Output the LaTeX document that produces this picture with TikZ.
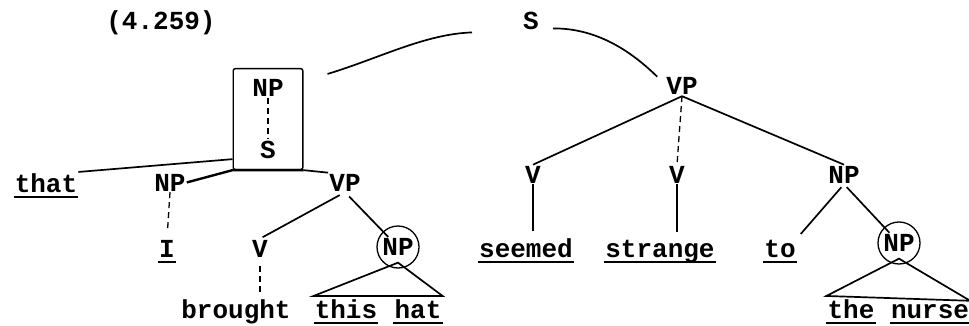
\documentclass[tikz,border=0pt]{standalone}
\usepackage{fontspec}
\setmonofont{Liberation Mono}
\usetikzlibrary{fit}
\tikzset{
  word/.style={anchor=base, inner sep=1pt},
  circ/.style={draw, line width=1.3pt, circle, minimum size=42pt, inner sep=0pt},
  branch/.style={line width=1.7pt},
  dotbranch/.style={line width=1.3pt, dash pattern=on 6pt off 4pt}
}
\begin{document}
\begin{tikzpicture}[x=1pt,y=-1pt,font=\ttfamily\bfseries\fontsize{26}{30}\selectfont]
  \useasboundingbox (0,0) rectangle (969,326);
  \node[word] (num) at (161,30) {(4.259)};
  \node[word] (S) at (531,30) {S};
  % boxed NP over S
  \node[word] (npa) at (268,97) {NP};
  \node[word] (sa) at (268,158) {S};
  \node[draw, line width=1.4pt, rounded corners=2pt, fit=(npa)(sa), inner xsep=18pt, inner ysep=10pt] (box) {};
  \draw[dotbranch] (npa) -- (sa);
  % left subtree
  \node[word] (that) at (46,192) {that};
  \node[word] (npl) at (170,191) {NP};
  \node[word] (vpl) at (345,191) {VP};
  \node[word] (I) at (167,257) {I};
  \node[word] (vl) at (260,257) {V};
  \node[circ] (npc1) at (398,247) {NP};
  \node[word] (brought) at (236,318) {brought};
  \node[word] (this) at (346,318) {this};
  \node[word] (hat) at (418,318) {hat};
  % right subtree
  \node[word] (vpr) at (682,95) {VP};
  \node[word] (vr1) at (533,183) {V};
  \node[word] (vr2) at (677,183) {V};
  \node[word] (npr) at (844,183) {NP};
  \node[word] (seemed) at (526,257) {seemed};
  \node[word] (strange) at (660,257) {strange};
  \node[word] (to) at (780,257) {to};
  \node[circ] (npc2) at (899,243) {NP};
  \node[word] (the) at (851,318) {the};
  \node[word] (nurse) at (930,318) {nurse};
  % curved links to the top S
  \draw[branch] ([xshift=24pt,yshift=-6pt]box.north east) .. controls (380,58) and (425,34) .. ([xshift=-50pt,yshift=-11pt]S.west);
  \draw[branch] ([xshift=13pt,yshift=-7pt]S.east) .. controls (600,28) and (635,55) .. ([xshift=-8pt]vpr.north west);
  % branches
  \draw[branch] ([yshift=11pt]box.south west) -- (that.north east);
  \draw[line width=2.4pt] (npl.east) -- (box.south west) -- (box.south east);
  \draw[branch] (box.south east) -- (vpl.north west);
  \draw[dotbranch, shorten >=8pt] (npl.south) -- (I.north);
  \draw[branch, shorten <=6pt, shorten >=3pt] (vpl.south) -- (vl.north);
  \draw[branch, shorten <=6pt, shorten >=14pt] (vpl.south) -- (npc1.center);
  \draw[dotbranch, shorten <=8pt, shorten >=4pt] (vl.south) -- (vl.south |- brought.north);
  \draw[branch] ([yshift=2pt]this.north west) -- ([yshift=6pt]npc1.south) -- ([yshift=2pt]hat.north east) -- cycle;
  \draw[branch] (vpr.south) -- (vr1.north);
  \draw[dotbranch] (vpr.south) -- (vr2.north);
  \draw[branch] (vpr.south) -- (npr.north);
  \draw[branch, shorten >=6pt] (vr1.south) -- (vr1.south |- seemed.north);
  \draw[branch, shorten >=6pt] (vr2.south) -- (vr2.south |- strange.north);
  \draw[branch, shorten <=4pt, shorten >=6pt] (npr.south) -- (to.north east);
  \draw[branch, shorten <=4pt, shorten >=14pt] (npr.south) -- (npc2.center);
  \draw[branch] ([yshift=2pt]the.north west) -- ([yshift=6pt]npc2.south) -- ([yshift=2pt]nurse.north east) -- cycle;
  % underlines
  \foreach \w in {that,I,seemed,strange,to,this,hat,the,nurse}
    \draw[line width=1.5pt] ([yshift=-5pt]\w.base west) -- ([yshift=-5pt]\w.base east);
\end{tikzpicture}
\end{document}
